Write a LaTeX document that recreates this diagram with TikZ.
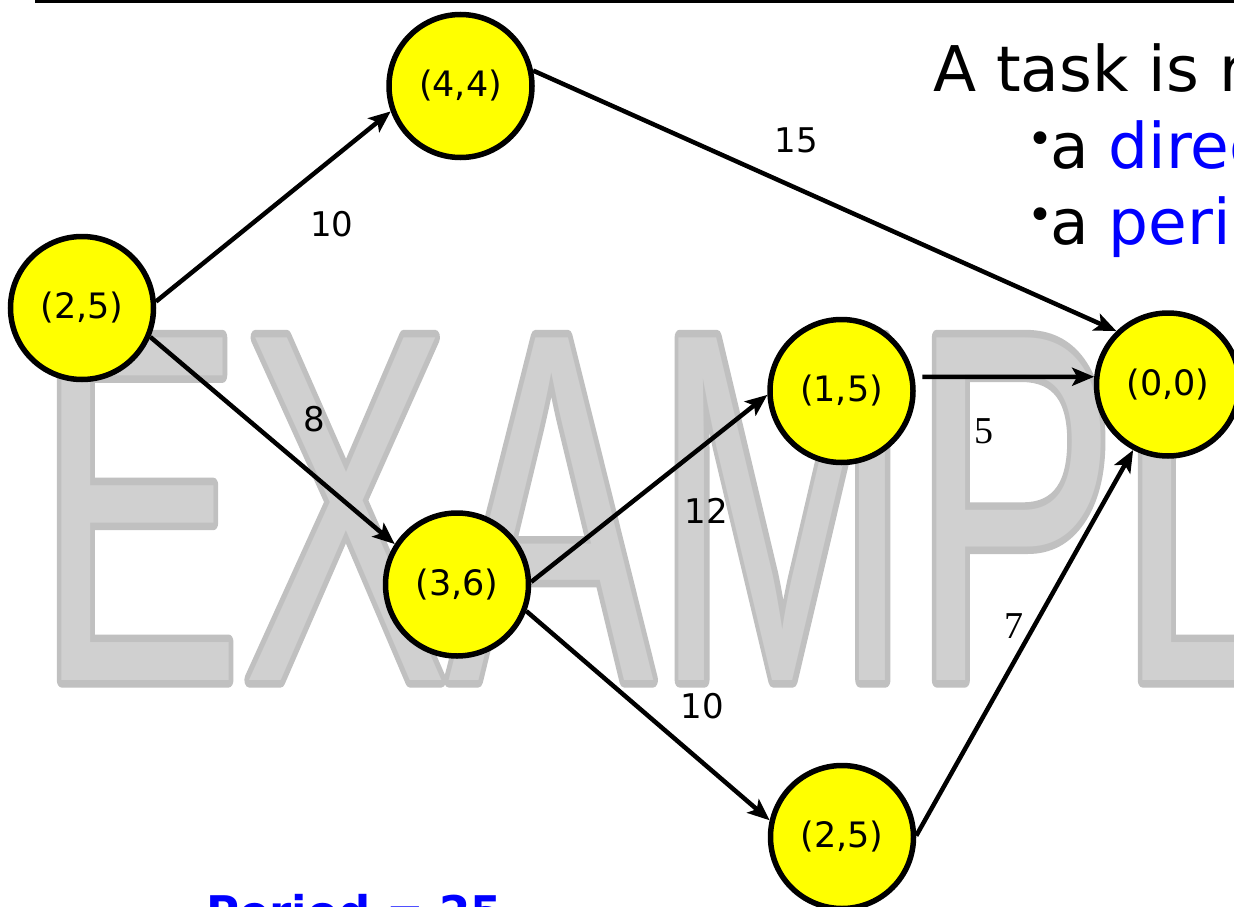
\documentclass[tikz,border=0pt]{standalone}
\usepackage{fontspec}
\setmainfont{DejaVu Sans}
\newfontfamily\wmfont{Liberation Sans}
\newfontfamily\wmfontb{Liberation Sans}[FakeBold=3]
\newfontfamily\serifnum{Liberation Serif}
\usetikzlibrary{arrows.meta}
\definecolor{nodeyellow}{RGB}{255,255,0}
\definecolor{wmfill}{RGB}{208,208,208}
\definecolor{wmline}{RGB}{192,192,192}
\definecolor{pureblue}{RGB}{0,0,255}
\tikzset{
  task/.style={circle, draw=black, line width=5.5pt, fill=nodeyellow, minimum size=143pt, inner sep=0pt, font=\fontsize{35}{40}\selectfont},
  conn/.style={line width=4.5pt, -{Stealth[length=22pt,width=18pt,inset=5pt]}},
  lbl/.style={inner sep=0pt, font=\fontsize{34}{40}\selectfont},
  slbl/.style={inner sep=0pt, font=\serifnum\fontsize{38}{40}\selectfont},
  bigtext/.style={inner sep=0pt, anchor=base west, font=\fontsize{63}{70}\selectfont},
  bul/.style={inner sep=0pt, font=\fontsize{44}{50}\selectfont}
}
\begin{document}
\begin{tikzpicture}[x=1pt,y=-1pt]
\useasboundingbox (0,0) rectangle (1234,907);
\clip (0,0) rectangle (1234,907);
\fill[white] (0,0) rectangle (1234,907);
% watermark
\begin{scope}[shift={(36,680)}, xscale=0.62, line join=round, miter limit=1]
  \node[transform shape, anchor=base west, inner sep=0pt, text=wmline, line join=round, font=\wmfontb\fontsize{498}{500}\selectfont] (wm1) at (0,0) {EXAMPLE};
  \node[transform shape, anchor=base west, inner sep=0pt, text=wmfill, font=\wmfont\fontsize{498}{500}\selectfont] (wm2) at (0,0) {EXAMPLE};
\end{scope}
% top rule
\fill[black] (35,0) rectangle (1234,3.5);
% nodes
\node[task] (a) at (82,308) {(2,5)};
\node[task] (b) at (460.5,86) {(4,4)};
\node[task] (c) at (457,584.5) {(3,6)};
\node[task] (d) at (841.5,391) {(1,5)};
\node[task] (e) at (842,837) {(2,5)};
\node[task] (f) at (1168,384.5) {(0,0)};
% connectors
\draw[conn] (a.5) -- (b.200);
\draw[conn] (a.337) -- (c.147);
\draw[conn] (b.12) -- (f.134);
\draw[conn] (c.2) -- (d.183);
\draw[conn] (c.339) -- (e.167);
\draw[conn, shorten <=8pt] (d.11) -- (f.174);
\draw[conn] (e.1) -- (f.242);
% labels
\node[lbl] (l1) at (332,224) {10};
\node[lbl] (l2) at (314.5,419.5) {8};
\node[lbl] (l3) at (796,140.5) {15};
\node[lbl] (l4) at (706,511) {12};
\node[lbl] (l5) at (702.5,706) {10};
\node[slbl] (l6) at (983.5,431.5) {5};
\node[slbl] (l7) at (1013.5,626.5) {7};
% text top right
\node[bigtext] (t1) at (933,92) {A task is represented by};
\node[bul] (b1) at (1040,143) {•};
\node[bigtext] (t2) at (1050,168) {a \textcolor{pureblue}{directed acyclic graph}};
\node[bul] (b2) at (1040,219) {•};
\node[bigtext] (t3) at (1050,244) {a \textcolor{pureblue}{period}};
% bottom text
\node[inner sep=0pt, anchor=base west, text=pureblue, font=\bfseries\fontsize{45}{50}\selectfont] (p) at (206,928) {Period = 25};
\end{tikzpicture}
\end{document}
